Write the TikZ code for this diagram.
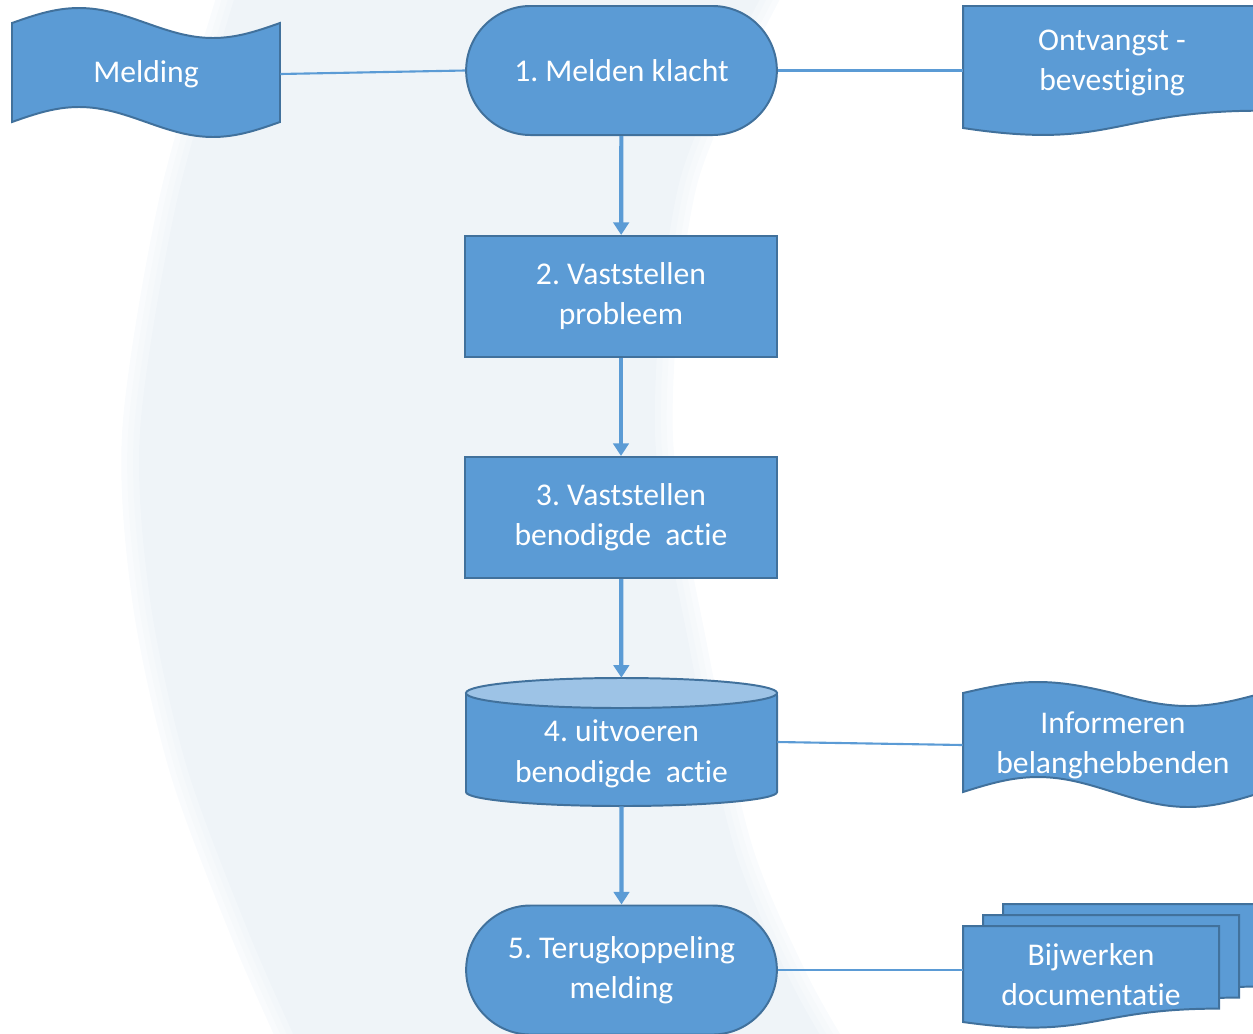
\documentclass[tikz,border=0pt]{standalone}
\usepackage{fontspec}
\setmainfont{Carlito}[Ligatures={NoCommon,NoContextual}]
\usetikzlibrary{shapes.misc,arrows.meta}
\definecolor{vlak}{RGB}{91,155,213}
\definecolor{rand}{RGB}{65,113,156}
\definecolor{deksel}{RGB}{157,195,230}
\definecolor{achter}{RGB}{239,244,248}
\frenchspacing
% vage maanvorm op de achtergrond
\newcommand{\maanpad}{plot[smooth] coordinates {(240,-20) (177,200) (140,430) (150,600) (187,768) (250,936) (305,1060)}
  -- plot[smooth] coordinates {(835,1060) (790,980) (735,850) (690,650) (655,430) (680,180) (770,-20)} -- cycle}

\begin{document}
\begin{tikzpicture}[x=0.025cm,y=-0.025cm,
    every node/.style={font=\fontsize{22.5}{28.5}\selectfont, text=white, align=center},
    vorm/.style={fill=vlak, draw=rand, line width=1.4pt},
    eind/.style={vorm, rounded rectangle, minimum width=8cm, minimum height=3.225cm},
    proces/.style={vorm, rectangle, minimum width=7.775cm, minimum height=3.025cm},
    tekst/.style={inner sep=0pt},
    pijl/.style={draw=vlak, line width=3pt, -{Triangle[width=11pt,length=9pt]}},
    lijn/.style={draw=vlak, line width=1.5pt}]
  \useasboundingbox (0,0) rectangle (1253,1033);
  \clip (0,0) rectangle (1253,1033);

  \fill[achter] \maanpad;
  \foreach \w in {36,24,12}
    \draw[achter, opacity=0.35, line width=\w*0.7pt] \maanpad;

  % hoofdstappen
  \node[eind] (klacht) at (621.5,70.5) {1. Melden klacht};
  \node[proces] (stap2) at (621,296.5) {2. Vaststellen\\probleem};
  \node[proces] (stap3) at (621,517.5) {3. Vaststellen\\benodigde\ \ actie};

  % opslag (cilinder)
  \fill[vlak] (466,693) -- (466,792) arc[start angle=180, end angle=360, x radius=3.8875cm, y radius=0.35cm] -- (777,693) -- cycle;
  \draw[rand, line width=1.4pt] (466,693) -- (466,792) arc[start angle=180, end angle=360, x radius=3.8875cm, y radius=0.35cm] -- (777,693);
  \filldraw[fill=deksel, draw=rand, line width=1.4pt] (621.5,693) ellipse [x radius=3.8875cm, y radius=0.375cm];
  \node[tekst, minimum width=7.775cm, minimum height=3.2cm] (uitv) at (621.5,742)
    {\raisebox{-8.5pt}[\height][\depth]{\begin{tabular}{@{}c@{}}4. uitvoeren\\benodigde\ \ actie\end{tabular}}};

  \node[eind] (terug) at (621.5,970) {5. Terugkoppeling\\melding};

  % ponsband links
  \draw[vorm] (12,23) sin (79,8) cos (146,23) sin (213,38) cos (280,23) -- (280,122)
    sin (213,137) cos (146,122) sin (79,107) cos (12,122) -- cycle;
  \node[tekst, minimum width=6.7cm, minimum height=2.475cm] (melding) at (146,74) {Melding};

  % ponsband rechts
  \draw[vorm] (963,693) sin (1038,682) cos (1113,693) sin (1188,706) cos (1263,693) -- (1263,792)
    sin (1188,807) cos (1113,792) sin (1038,777) cos (963,792) -- cycle;
  \node[tekst, minimum width=7.5cm, minimum height=2.475cm] (inform) at (1113,745) {Informeren\\belanghebbenden};

  % document
  \draw[vorm] (963,6) -- (1261,6) -- (1261,110.7) .. controls (1112,110.7) and (1112,150.6) .. (963,128) -- cycle;
  \node[tekst, minimum width=7.45cm, minimum height=2.6cm] (bevest) at (1112,63) {Ontvangst -\\bevestiging};

  % meerdere documenten
  \draw[vorm] (1003,904) -- (1259,904) -- (1259,986.6) .. controls (1131,986.6) and (1131,1018) .. (1003,1000) -- cycle;
  \draw[vorm] (983,915) -- (1239,915) -- (1239,997.6) .. controls (1111,997.6) and (1111,1029) .. (983,1011) -- cycle;
  \draw[vorm] (963,926) -- (1219,926) -- (1219,1008.6) .. controls (1091,1008.6) and (1091,1040) .. (963,1022) -- cycle;
  \node[tekst, minimum width=6.4cm, minimum height=2.4cm] (bijwerk) at (1091,975) {Bijwerken\\documentatie};

  % verbindingen
  \draw[pijl] (klacht) -- (stap2);
  \draw[pijl] (stap2) -- (stap3);
  \draw[pijl] (stap3) -- (uitv);
  \draw[pijl] (uitv) -- (terug);
  \draw[lijn] (melding.east) -- (klacht.west);
  \draw[lijn] (klacht.east) -- (klacht.east -| bevest.west);
  \draw[lijn] (uitv.east) -- (inform.west);
  \draw[lijn] (terug.east) -- (terug.east -| bijwerk.west);
\end{tikzpicture}
\end{document}
